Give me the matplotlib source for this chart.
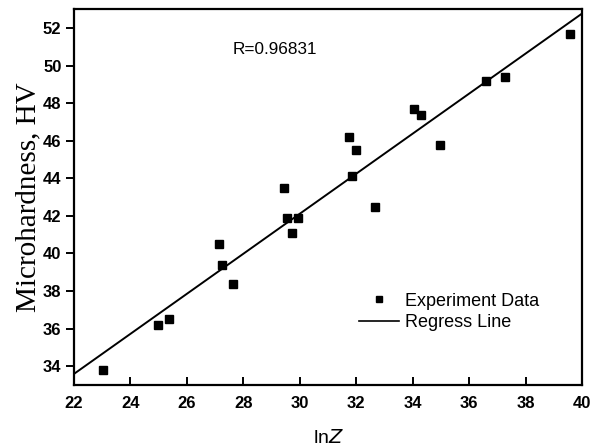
import matplotlib.pyplot as plt
import numpy as np
from matplotlib.lines import Line2D

# experiment data
lnZ = [23.04, 24.96, 25.35, 27.14, 27.26, 27.65, 29.44, 29.56, 29.71, 29.95,
       31.75, 31.86, 31.99, 32.68, 34.05, 34.28, 34.97, 36.59, 37.28, 39.58]
HV = [33.8, 36.2, 36.5, 40.5, 39.4, 38.4, 43.5, 41.9, 41.1, 41.9,
      46.2, 44.1, 45.5, 42.5, 47.7, 47.4, 45.8, 49.2, 49.4, 51.7]
R_text = 'R=0.96831'
xticks = [22, 24, 26, 28, 30, 32, 34, 36, 38, 40]
yticks = [34, 36, 38, 40, 42, 44, 46, 48, 50, 52]

x = np.array(lnZ)
y = np.array(HV)
k, b = np.polyfit(x, y, 1)
xl = np.array([22, 40])

fig = plt.figure(figsize=(5.97, 4.46), dpi=100)
ax = fig.add_axes([0.124, 0.137, 0.851, 0.842])

ax.plot(xl, k*xl + b, 'k-', lw=1.4)
ax.plot(x, y, 'ks', ms=5.5)

ax.set_xlim(22, 40)
ax.set_ylim(33, 53)
ax.set_xticks(xticks)
ax.set_yticks(yticks)
for s in ax.spines.values():
    s.set_linewidth(1.6)
ax.tick_params(axis='x', direction='in', length=6, width=1.4, pad=8)
ax.tick_params(axis='y', direction='out', length=6, width=1.4, pad=3)
for lab in ax.get_xticklabels() + ax.get_yticklabels():
    lab.set_fontfamily('Liberation Sans')
    lab.set_fontweight('bold')
    lab.set_fontsize(12)

ax.set_ylabel('Microhardness, HV', family='Liberation Serif', fontsize=21, labelpad=1)
ax.set_xlabel(r'ln$\it{Z}$', family='Liberation Sans', fontsize=14, labelpad=13)

ax.text(0.313, 0.893, R_text, transform=ax.transAxes, va='center',
        family='Liberation Sans', fontsize=12.3)

handles = [Line2D([], [], ls='none', marker='s', color='k', ms=4),
           Line2D([], [], ls='-', color='k', lw=1.2)]
ax.legend(handles, ['Experiment Data', 'Regress Line'], frameon=False,
          loc='lower left', bbox_to_anchor=(0.529, 0.10), handlelength=2.2,
          handletextpad=0.33, labelspacing=0.25,
          prop={'family': 'Liberation Sans', 'size': 13})

fig.savefig('out.png', dpi=100)
